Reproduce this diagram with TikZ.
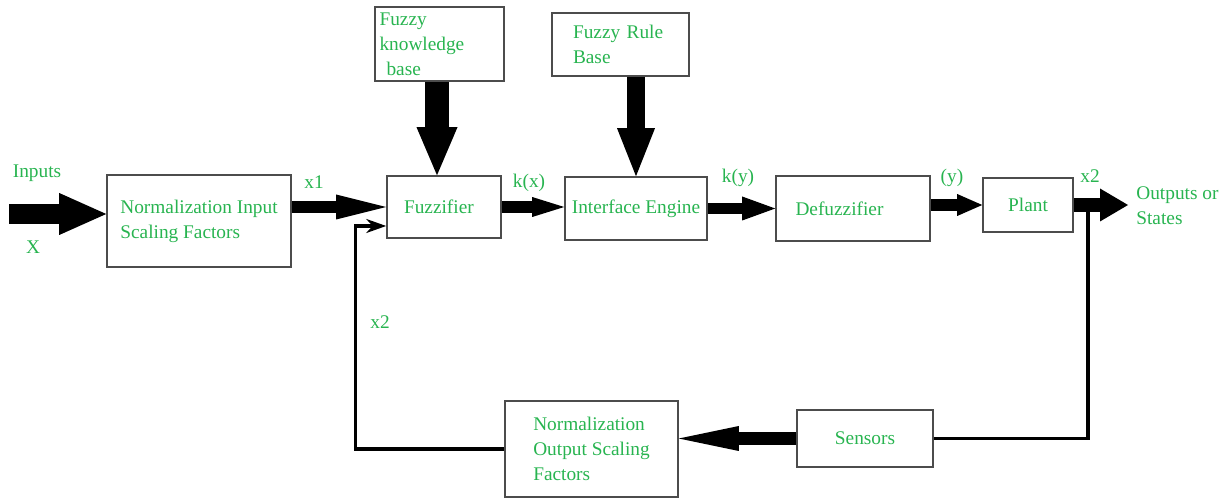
\documentclass[tikz,border=0pt]{standalone}
\usepackage{fontspec}
\setmainfont{Liberation Serif}
\usetikzlibrary{arrows.meta}
\definecolor{txtgreen}{RGB}{40,180,80}
\begin{document}
\begin{tikzpicture}[x=0.02cm,y=-0.02cm,
    blk/.style={draw=black!70, line width=0.9pt, text=txtgreen, align=left, font=\fontsize{11}{14.2}\selectfont},
    lbl/.style={text=txtgreen, inner sep=0pt, align=left, font=\fontsize{11}{14.2}\selectfont},
    fb/.style={line width=1.8pt}]
  \useasboundingbox (0,0) rectangle (1231,499);
  % blocks
  \node[blk, minimum width=3.68cm, minimum height=1.84cm] (nin) at (199,221) {Normalization Input\\Scaling Factors};
  \node[blk, minimum width=2.28cm, minimum height=1.24cm, inner xsep=0.32cm, text width=1.6cm] (fuz) at (444,207) {Fuzzifier};
  \node[blk, minimum width=2.58cm, minimum height=1.40cm, inner xsep=0.06cm, text width=2.4cm] (kb) at (439.5,44) {Fuzzy\\knowledge\\\hspace*{0.14cm}base};
  \node[blk, minimum width=2.84cm, minimum height=1.26cm, inner xsep=0.08cm] (ie) at (636,208.5) {Interface Engine};
  \node[blk, minimum width=2.74cm, minimum height=1.26cm, inner xsep=0.4cm, text width=1.9cm] (rb) at (620.5,44.5) {Fuzzy Rule\\Base};
  \node[blk, minimum width=3.08cm, minimum height=1.30cm, inner xsep=0.38cm, text width=2.3cm] (def) at (853,208.5) {Defuzzifier};
  \node[blk, minimum width=1.80cm, minimum height=1.08cm] (plant) at (1028,205) {Plant};
  \node[blk, minimum width=2.72cm, minimum height=1.14cm] (sens) at (865,438.5) {Sensors};
  \node[blk, minimum width=3.46cm, minimum height=1.92cm] (nout) at (591.5,449) {Normalization\\Output Scaling\\Factors};
  % labels
  \node[lbl] (lin) at (37,173) {Inputs};
  \node[lbl] (lx) at (33,247) {X};
  \node[lbl] (lx1) at (314,182) {x1};
  \node[lbl] (lkx) at (529,183) {k(x)};
  \node[lbl] (lky) at (738,178) {k(y)};
  \node[lbl] (ly) at (952,178) {(y)};
  \node[lbl] (lx2) at (1090,176) {x2};
  \node[lbl, anchor=west] (lout) at (1136,206) {Outputs or\\States};
  \node[lbl] (lfb) at (380,322) {x2};
  % free ends
  \coordinate (in) at (9,214);
  \coordinate (out) at (1128,205);
  \coordinate (tap) at (1088,205);
  \coordinate (fbin) at ([yshift=-0.38cm]fuz.west);
  % forward path
  \draw[line width=11.9pt, -{Triangle[length=0.94cm,width=0.84cm,line width=0pt]}] (in) -- (nin.west |- in);
  \draw[line width=6.8pt, -{Triangle[length=1.0cm,width=0.5cm,line width=0pt]}] (nin.east |- fuz.west) -- (fuz.west);
  \draw[line width=14.2pt, -{Triangle[length=0.96cm,width=0.82cm,line width=0pt]}] (kb.south -| 437,0) -- (fuz.north -| 437,0);
  \draw[line width=10.2pt, -{Triangle[length=0.96cm,width=0.76cm,line width=0pt]}] (rb.south -| 636,0) -- (ie.north -| 636,0);
  \draw[line width=6.8pt, -{Triangle[length=0.64cm,width=0.4cm,line width=0pt]}] (fuz.east) -- (ie.west |- fuz.east);
  \draw[line width=6.8pt, -{Triangle[length=0.66cm,width=0.48cm,line width=0pt]}] (ie.east) -- (def.west |- ie.east);
  \draw[line width=6.8pt, -{Triangle[length=0.5cm,width=0.44cm,line width=0pt]}] (def.east |- plant.west) -- (plant.west);
  \draw[line width=8.5pt, -{Triangle[length=0.56cm,width=0.66cm,line width=0pt]}] (plant.east) -- (out);
  % feedback path
  \draw[fb] (tap) |- (sens.east);
  \draw[line width=7.9pt, -{Triangle[length=1.2cm,width=0.5cm,line width=0pt]}] (sens.west) -- (nout.east |- sens.west);
  \draw[fb, -{Stealth[length=0.4cm,width=0.28cm]}] (nout.west) -- ++(-149,0) |- (fbin);
\end{tikzpicture}
\end{document}
